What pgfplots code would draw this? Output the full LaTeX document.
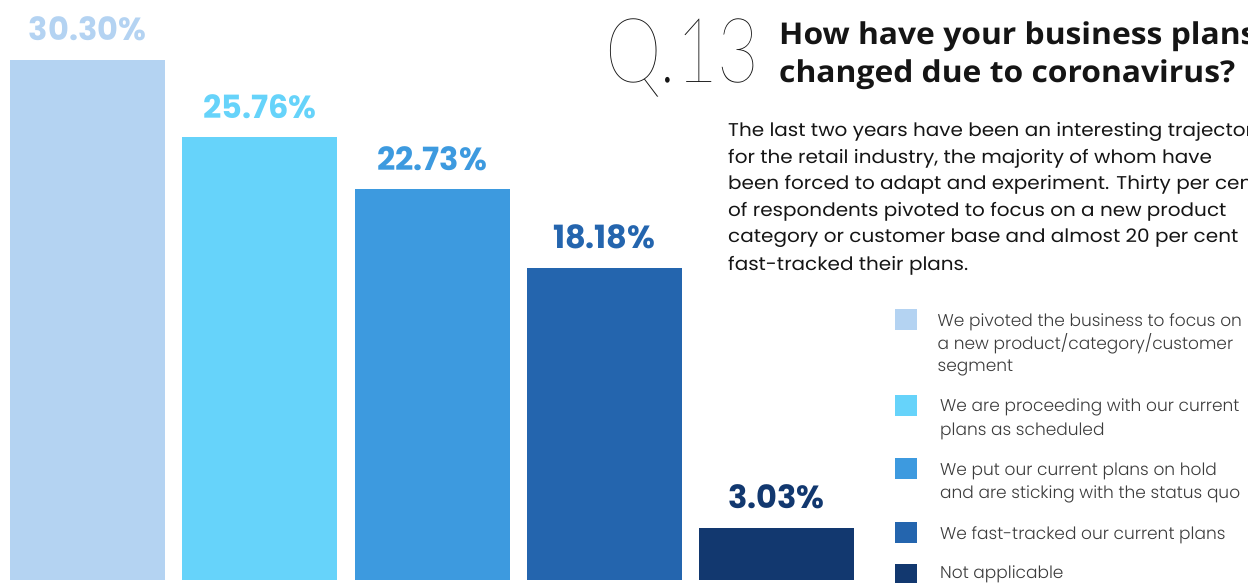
\documentclass[border=0pt]{standalone}
\usepackage{pgfplots}
\pgfplotsset{compat=1.18}
\usepackage{fontspec}
\setmainfont{Poppins}
\newfontfamily\valfont{Poppins}
\newfontfamily\headfont{Open Sans}
\IfFontExistsTF{Lato Hairline}{\newfontfamily\qfont{Lato Hairline}}{\newfontfamily\qfont{Lato}}
\IfFontExistsTF{Poppins Light}{\newfontfamily\legfont{Poppins Light}}{\newfontfamily\legfont{Poppins}}
\definecolor{c1}{HTML}{B4D3F2}
\definecolor{c2}{HTML}{66D3FA}
\definecolor{c3}{HTML}{3D9ADF}
\definecolor{c4}{HTML}{2465AE}
\definecolor{c5}{HTML}{12386F}
\definecolor{txt}{HTML}{151515}
\definecolor{leg}{HTML}{3C3C3C}
\begin{document}
\begin{tikzpicture}[x=1pt,y=1pt]
\useasboundingbox (0,0) rectangle (1248,582);
\clip (0,0) rectangle (1248,582);
\begin{axis}[
  at={(0pt,0pt)}, anchor=south west,
  scale only axis, width=1248pt, height=582pt,
  xmin=-0.508, xmax=6.737, ymin=-0.144, ymax=33.77,
  axis lines=none, ticks=none,
  clip=false,
  /pgf/number format/assume math mode=true,
  every axis plot/.append style={ybar, bar width=155pt, bar shift=0pt, draw=none},
  nodes near coords={\pgfmathprintnumber[fixed,fixed zerofill,precision=2,assume math mode=true]{\pgfplotspointmeta}\%},
  every node near coord/.append style={anchor=base, yshift=19pt, inner sep=0pt, font=\valfont\bfseries\fontsize{32}{32}\selectfont},
]
\addplot[fill=c1, text=c1] coordinates {(0,30.30)};
\addplot[fill=c2, text=c2] coordinates {(1,25.76)};
\addplot[fill=c3, text=c3] coordinates {(2,22.73)};
\addplot[fill=c4, text=c4] coordinates {(3,18.18)};
\addplot[fill=c5, text=c5] coordinates {(4,3.03)};
\end{axis}
% title block
\node[anchor=base west, inner sep=0pt, text=txt] at (605,499) {\qfont\fontsize{90}{90}\selectfont\scalebox{0.8}[1]{Q.13}};
\node[anchor=base west, inner sep=0pt, text=txt] at (779,537) {\headfont\bfseries\fontsize{30}{30}\selectfont\scalebox{1.06}[1]{How have your business plans}};
\node[anchor=base west, inner sep=0pt, text=txt] at (779,499) {\headfont\bfseries\fontsize{30}{30}\selectfont\scalebox{1.06}[1]{changed due to coronavirus?}};
% paragraph
\begin{scope}[every node/.style={anchor=base west, inner sep=0pt, text=txt, font=\fontsize{18.5}{18.5}\selectfont}]
\node at (728,445) {\scalebox{1.08}[1]{The last two years have been an interesting trajectory}};
\node at (728,418.5) {\scalebox{1.08}[1]{for the retail industry, the majority of whom have}};
\node at (728,392) {\scalebox{1.08}[1]{been forced to adapt and experiment. Thirty per cent}};
\node at (728,365.5) {\scalebox{1.08}[1]{of respondents pivoted to focus on a new product}};
\node at (728,339) {\scalebox{1.08}[1]{category or customer base and almost 20 per cent}};
\node at (728,312) {\scalebox{1.08}[1]{fast-tracked their plans.}};
\end{scope}
% legend
\fill[c1] (895,251.7) rectangle (916.5,272.7);
\fill[c2] (895,166) rectangle (916.5,187);
\fill[c3] (895,103) rectangle (916.5,124);
\fill[c4] (895,39.3) rectangle (916.5,60.3);
\fill[c5] (895,-3) rectangle (916.5,17.7);
\begin{scope}[every node/.style={anchor=base west, inner sep=0pt, text=leg, font=\legfont\fontsize{17}{17}\selectfont}]
\node at (937.5,256) {We pivoted the business to focus on};
\node at (937.5,232.7) {a new product/category/customer};
\node at (937.5,210.3) {segment};
\node at (940,170.3) {We are proceeding with our current};
\node at (940,147) {plans as scheduled};
\node at (940,106.3) {We put our current plans on hold};
\node at (940,83.7) {and are sticking with the status quo};
\node at (940,42.7) {We fast-tracked our current plans};
\node at (940,3.5) {Not applicable};
\end{scope}
\end{tikzpicture}
\end{document}
